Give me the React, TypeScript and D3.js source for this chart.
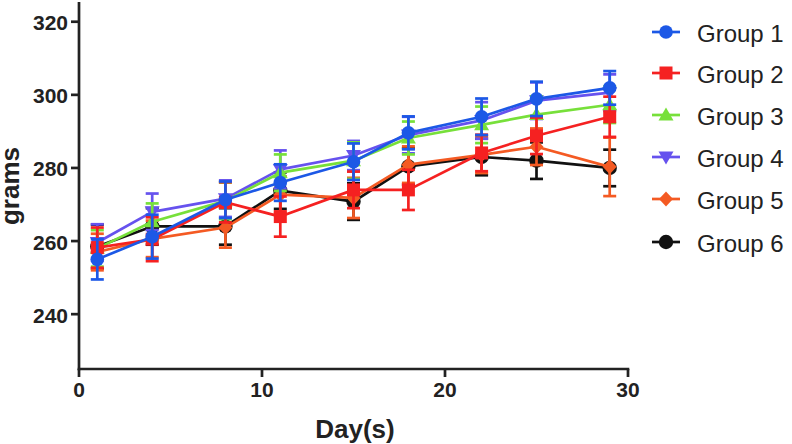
import React from "react";
import * as d3 from "d3";

const days = [1, 4, 8, 11, 15, 18, 22, 25, 29];
const groupNames = ["Group 1", "Group 2", "Group 3", "Group 4", "Group 5", "Group 6"];
const g1 = [255, 261.2, 271.3, 276, 281.7, 289.6, 294, 298.9, 301.9];
const g2 = [258.2, 260.5, 270.6, 266.7, 274, 274, 284.1, 288.8, 294];
const g3 = [258, 265.3, 271, 278.7, 282, 288.2, 291.8, 294.6, 297.3];
const g4 = [259.6, 268, 271.6, 279.6, 283.4, 289, 293, 298.4, 300.6];
const g5 = [257, 260.6, 263.7, 272.7, 271.8, 280.9, 283.6, 285.8, 280.3];
const g6 = [258.5, 264, 264, 273.8, 270.8, 280.4, 283, 282, 280];
const sd1 = [5.5, 6, 5, 5, 5, 4.5, 5, 4.7, 4.6];
const sd2 = [5.5, 6, 5.5, 5.5, 5, 5.5, 5, 5, 5.5];
const sd3 = [5, 5, 5, 5, 5, 4.5, 5, 5, 5];
const sd4 = [5, 5, 5, 5.2, 4, 5, 5, 5, 5];
const sd5 = [5, 5, 5.5, 5, 5.5, 5, 5, 5, 8];
const sd6 = [6, 5, 5, 5, 5, 5, 5, 5, 5];
const xTicks = [0, 10, 20, 30];
const yTicks = [240, 260, 280, 300, 320];

const colors = ["#1c58e6", "#f52121", "#77e03a", "#6652ee", "#f45a23", "#111111"];
const shapes = ["circle", "square", "triUp", "triDown", "diamond", "circleBig"];
const means = [g1, g2, g3, g4, g5, g6];
const sds = [sd1, sd2, sd3, sd4, sd5, sd6];

function Marker({ shape, x, y, color }: { shape: string; x: number; y: number; color: string }) {
  if (shape === "circle") return <circle cx={x} cy={y} r={6.8} fill={color} />;
  if (shape === "circleBig") return <circle cx={x} cy={y} r={7.2} fill={color} />;
  if (shape === "square") return <rect x={x - 6.5} y={y - 6.5} width={13} height={13} fill={color} />;
  if (shape === "triUp")
    return <path d={`M${x},${y - 7.5}L${x + 7.5},${y + 5.5}L${x - 7.5},${y + 5.5}Z`} fill={color} />;
  if (shape === "triDown")
    return <path d={`M${x},${y + 7.5}L${x + 7.5},${y - 5.5}L${x - 7.5},${y - 5.5}Z`} fill={color} />;
  return <path d={`M${x},${y - 7.5}L${x + 7},${y}L${x},${y + 7.5}L${x - 7},${y}Z`} fill={color} />;
}

export default function App() {
  const W = 792, H = 444;
  const x = d3.scaleLinear().domain([0, 30]).range([79, 628]);
  const y = d3.scaleLinear().domain([225, 325.4]).range([369, 2]);
  const line = d3.line<[number, number]>().x((d) => x(d[0])).y((d) => y(d[1]));
  const font = "'Liberation Sans', Arial, sans-serif";
  const order = [5, 4, 3, 2, 1, 0];
  const legendY = [32, 73, 115, 157, 199, 242];
  return (
    <svg width={W} height={H} style={{ position: "absolute", left: 0, top: 0, background: "#fff" }}>
      {order.map((gi) => {
        const c = colors[gi];
        const pts = days.map((d, i) => [d, means[gi][i]] as [number, number]);
        return (
          <g key={gi}>
            {days.map((d, i) => {
              const cx = x(d);
              const top = y(means[gi][i] + sds[gi][i]);
              const bot = y(means[gi][i] - sds[gi][i]);
              return (
                <g key={i} stroke={c} strokeWidth={2.7}>
                  <line x1={cx} x2={cx} y1={top} y2={bot} />
                  <line x1={cx - 6.5} x2={cx + 6.5} y1={top} y2={top} />
                  <line x1={cx - 6.5} x2={cx + 6.5} y1={bot} y2={bot} />
                </g>
              );
            })}
            <path d={line(pts) || ""} fill="none" stroke={c} strokeWidth={2.7} strokeLinejoin="round" />
            {days.map((d, i) => (
              <Marker key={i} shape={shapes[gi]} x={x(d)} y={y(means[gi][i])} color={c} />
            ))}
          </g>
        );
      })}
      {/* axes */}
      <g stroke="#222" strokeWidth={2.7} fill="none">
        <line x1={x(0)} x2={x(0)} y1={y(325.4)} y2={y(225) + 1.3} />
        <line x1={x(0) - 1.3} x2={x(30) + 1.3} y1={y(225)} y2={y(225)} />
        {yTicks.map((t) => (
          <line key={t} x1={x(0) - 8} x2={x(0)} y1={y(t)} y2={y(t)} />
        ))}
        {xTicks.map((t) => (
          <line key={t} x1={x(t)} x2={x(t)} y1={y(225)} y2={y(225) + 8} />
        ))}
      </g>
      <g fontFamily={font} fontWeight="bold" fontSize={21} fill="#222">
        {yTicks.map((t) => (
          <text key={t} x={x(0) - 11} y={y(t) + 1} textAnchor="end" dominantBaseline="central">
            {t}
          </text>
        ))}
        {xTicks.map((t) => (
          <text key={t} x={x(t)} y={y(225) + 20} textAnchor="middle" dominantBaseline="central">
            {t}
          </text>
        ))}
        <text x={355} y={429} textAnchor="middle" dominantBaseline="central" fontSize={26}>
          Day(s)
        </text>
        <text transform={`translate(19,186) rotate(-90)`} textAnchor="middle" fontSize={26}>
          grams
        </text>
      </g>
      {groupNames.map((n, gi) => (
        <g key={n}>
          <line x1={652} x2={680} y1={legendY[gi]} y2={legendY[gi]} stroke={colors[gi]} strokeWidth={2.7} />
          <Marker shape={shapes[gi]} x={666} y={legendY[gi]} color={colors[gi]} />
          <text x={697} y={legendY[gi] + 1} dominantBaseline="central" fontFamily={font} fontSize={24} fill="#222">
            {n}
          </text>
        </g>
      ))}
    </svg>
  );
}
